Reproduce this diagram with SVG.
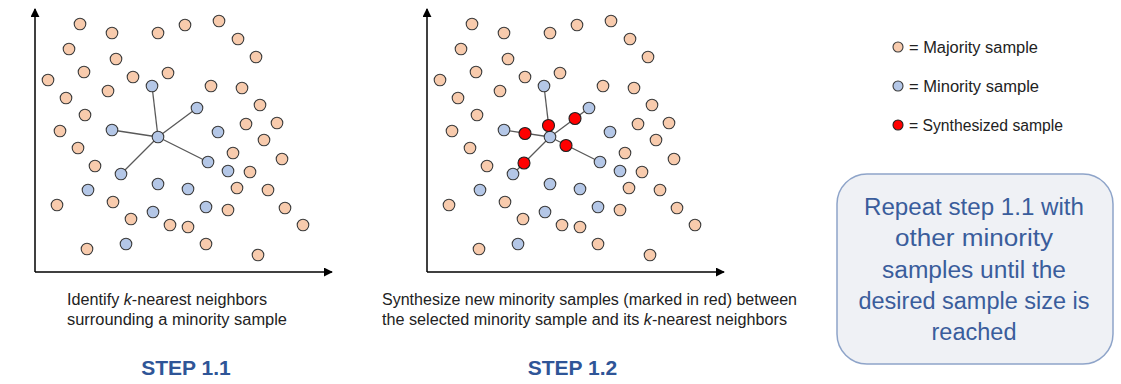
<svg xmlns="http://www.w3.org/2000/svg" xmlns:xlink="http://www.w3.org/1999/xlink" width="1121" height="384" viewBox="0 0 1121 384">
<style>
.maj{fill:#f8cbad;stroke:#3a3a3a;stroke-width:1.1}
.min{fill:#b4c7e7;stroke:#3a3a3a;stroke-width:1.1}
.syn{fill:#ff0000;stroke:#202020;stroke-width:1.1}
.axis{stroke:#000;stroke-width:1.5;fill:none}
.link{stroke:#595959;stroke-width:1.3}
.cap{font-family:"Liberation Sans",Arial,sans-serif;font-size:16px;fill:#222}
.step{font-family:"Liberation Sans",Arial,sans-serif;font-size:21px;font-weight:bold;fill:#2f5597;text-anchor:middle}
.leg{font-family:"Liberation Sans",Arial,sans-serif;font-size:16px;fill:#222}
.box{font-family:"Liberation Sans",Arial,sans-serif;font-size:23px;fill:#3a5d9c;text-anchor:middle}
</style>
<defs>
<marker id="ah" viewBox="0 0 10 10" refX="9" refY="5" markerWidth="9" markerHeight="9" markerUnits="userSpaceOnUse" orient="auto">
<path d="M0,0 L10,5 L0,10 z" fill="#000"/>
</marker>
</defs>

<!-- LEFT PLOT -->
<g id="plot-left">
<g id="axes-left">
<path class="axis" d="M35,272 L35,9" marker-end="url(#ah)"/>
<path class="axis" d="M35,272 L332,272" marker-end="url(#ah)"/>
</g>
<g id="connectors-left">
<line class="link" x1="158" y1="137" x2="152" y2="86"/>
<line class="link" x1="158" y1="137" x2="112" y2="130"/>
<line class="link" x1="158" y1="137" x2="197" y2="108"/>
<line class="link" x1="158" y1="137" x2="208" y2="162"/>
<line class="link" x1="158" y1="137" x2="121" y2="174"/>
</g>
<g id="majority-left">
<circle class="maj" cx="80" cy="24" r="5.8"/><circle class="maj" cx="112" cy="33" r="5.8"/><circle class="maj" cx="158" cy="33" r="5.8"/><circle class="maj" cx="185" cy="25" r="5.8"/>
<circle class="maj" cx="219" cy="21" r="5.8"/><circle class="maj" cx="238" cy="39" r="5.8"/><circle class="maj" cx="256" cy="57" r="5.8"/><circle class="maj" cx="69" cy="49" r="5.8"/>
<circle class="maj" cx="116" cy="59" r="5.8"/><circle class="maj" cx="84" cy="72" r="5.8"/><circle class="maj" cx="48" cy="80" r="5.8"/><circle class="maj" cx="133" cy="77" r="5.8"/>
<circle class="maj" cx="168" cy="73" r="5.8"/><circle class="maj" cx="211" cy="86" r="5.8"/><circle class="maj" cx="242" cy="88" r="5.8"/><circle class="maj" cx="66" cy="98" r="5.8"/>
<circle class="maj" cx="108" cy="91" r="5.8"/><circle class="maj" cx="260" cy="105" r="5.8"/><circle class="maj" cx="85" cy="115" r="5.8"/><circle class="maj" cx="60" cy="131" r="5.8"/>
<circle class="maj" cx="246" cy="124" r="5.8"/><circle class="maj" cx="277" cy="123" r="5.8"/><circle class="maj" cx="264" cy="140" r="5.8"/><circle class="maj" cx="78" cy="148" r="5.8"/>
<circle class="maj" cx="95" cy="166" r="5.8"/><circle class="maj" cx="233" cy="153" r="5.8"/><circle class="maj" cx="282" cy="159" r="5.8"/><circle class="maj" cx="250" cy="172" r="5.8"/>
<circle class="maj" cx="237" cy="188" r="5.8"/><circle class="maj" cx="268" cy="190" r="5.8"/><circle class="maj" cx="57" cy="205" r="5.8"/><circle class="maj" cx="113" cy="202" r="5.8"/>
<circle class="maj" cx="131" cy="219" r="5.8"/><circle class="maj" cx="170" cy="225" r="5.8"/><circle class="maj" cx="188" cy="227" r="5.8"/><circle class="maj" cx="228" cy="210" r="5.8"/>
<circle class="maj" cx="285" cy="208" r="5.8"/><circle class="maj" cx="303" cy="225" r="5.8"/><circle class="maj" cx="87" cy="249" r="5.8"/><circle class="maj" cx="206" cy="244" r="5.8"/>
<circle class="maj" cx="258" cy="255" r="5.8"/>
</g>
<g id="minority-left">
<circle class="min" cx="152" cy="86" r="5.8"/><circle class="min" cx="112" cy="130" r="5.8"/><circle class="min" cx="158" cy="137" r="5.8"/><circle class="min" cx="197" cy="108" r="5.8"/>
<circle class="min" cx="218" cy="132" r="5.8"/><circle class="min" cx="208" cy="162" r="5.8"/><circle class="min" cx="228" cy="171" r="5.8"/><circle class="min" cx="121" cy="174" r="5.8"/>
<circle class="min" cx="158" cy="184" r="5.8"/><circle class="min" cx="88" cy="190" r="5.8"/><circle class="min" cx="188" cy="189" r="5.8"/><circle class="min" cx="206" cy="207" r="5.8"/>
<circle class="min" cx="153" cy="212" r="5.8"/><circle class="min" cx="126" cy="244" r="5.8"/>
</g>
</g>

<!-- MIDDLE PLOT -->
<g id="plot-mid" transform="translate(392,0)">
<g id="axes-mid">
<path class="axis" d="M35,272 L35,9" marker-end="url(#ah)"/>
<path class="axis" d="M35,272 L332,272" marker-end="url(#ah)"/>
</g>
<g id="connectors-mid">
<line class="link" x1="158" y1="137" x2="152" y2="86"/>
<line class="link" x1="158" y1="137" x2="112" y2="130"/>
<line class="link" x1="158" y1="137" x2="197" y2="108"/>
<line class="link" x1="158" y1="137" x2="208" y2="162"/>
<line class="link" x1="158" y1="137" x2="121" y2="174"/>
</g>
<g id="majority-mid">
<circle class="maj" cx="80" cy="24" r="5.8"/><circle class="maj" cx="112" cy="33" r="5.8"/><circle class="maj" cx="158" cy="33" r="5.8"/><circle class="maj" cx="185" cy="25" r="5.8"/>
<circle class="maj" cx="219" cy="21" r="5.8"/><circle class="maj" cx="238" cy="39" r="5.8"/><circle class="maj" cx="256" cy="57" r="5.8"/><circle class="maj" cx="69" cy="49" r="5.8"/>
<circle class="maj" cx="116" cy="59" r="5.8"/><circle class="maj" cx="84" cy="72" r="5.8"/><circle class="maj" cx="48" cy="80" r="5.8"/><circle class="maj" cx="133" cy="77" r="5.8"/>
<circle class="maj" cx="168" cy="73" r="5.8"/><circle class="maj" cx="211" cy="86" r="5.8"/><circle class="maj" cx="242" cy="88" r="5.8"/><circle class="maj" cx="66" cy="98" r="5.8"/>
<circle class="maj" cx="108" cy="91" r="5.8"/><circle class="maj" cx="260" cy="105" r="5.8"/><circle class="maj" cx="85" cy="115" r="5.8"/><circle class="maj" cx="60" cy="131" r="5.8"/>
<circle class="maj" cx="246" cy="124" r="5.8"/><circle class="maj" cx="277" cy="123" r="5.8"/><circle class="maj" cx="264" cy="140" r="5.8"/><circle class="maj" cx="78" cy="148" r="5.8"/>
<circle class="maj" cx="95" cy="166" r="5.8"/><circle class="maj" cx="233" cy="153" r="5.8"/><circle class="maj" cx="282" cy="159" r="5.8"/><circle class="maj" cx="250" cy="172" r="5.8"/>
<circle class="maj" cx="237" cy="188" r="5.8"/><circle class="maj" cx="268" cy="190" r="5.8"/><circle class="maj" cx="57" cy="205" r="5.8"/><circle class="maj" cx="113" cy="202" r="5.8"/>
<circle class="maj" cx="131" cy="219" r="5.8"/><circle class="maj" cx="170" cy="225" r="5.8"/><circle class="maj" cx="188" cy="227" r="5.8"/><circle class="maj" cx="228" cy="210" r="5.8"/>
<circle class="maj" cx="285" cy="208" r="5.8"/><circle class="maj" cx="303" cy="225" r="5.8"/><circle class="maj" cx="87" cy="249" r="5.8"/><circle class="maj" cx="206" cy="244" r="5.8"/>
<circle class="maj" cx="258" cy="255" r="5.8"/>
</g>
<g id="minority-mid">
<circle class="min" cx="152" cy="86" r="5.8"/><circle class="min" cx="112" cy="130" r="5.8"/><circle class="min" cx="158" cy="137" r="5.8"/><circle class="min" cx="197" cy="108" r="5.8"/>
<circle class="min" cx="218" cy="132" r="5.8"/><circle class="min" cx="208" cy="162" r="5.8"/><circle class="min" cx="228" cy="171" r="5.8"/><circle class="min" cx="121" cy="174" r="5.8"/>
<circle class="min" cx="158" cy="184" r="5.8"/><circle class="min" cx="88" cy="190" r="5.8"/><circle class="min" cx="188" cy="189" r="5.8"/><circle class="min" cx="206" cy="207" r="5.8"/>
<circle class="min" cx="153" cy="212" r="5.8"/><circle class="min" cx="126" cy="244" r="5.8"/>
</g>
<g id="synthesized-mid">
<circle class="syn" cx="156.5" cy="125.5" r="6"/>
<circle class="syn" cx="183" cy="118.5" r="6"/>
<circle class="syn" cx="133" cy="133.5" r="6"/>
<circle class="syn" cx="132" cy="163" r="6"/>
<circle class="syn" cx="174" cy="145.5" r="6"/>
</g>
</g>

<!-- CAPTIONS -->
<g id="caption-left">
<text class="cap" x="67" y="305" textLength="200" lengthAdjust="spacingAndGlyphs">Identify <tspan font-style="italic">k</tspan>-nearest neighbors</text>
<text class="cap" x="67" y="325" textLength="220" lengthAdjust="spacingAndGlyphs">surrounding a minority sample</text>
<text class="step" x="186" y="375">STEP 1.1</text>
</g>
<g id="caption-mid">
<text class="cap" x="382" y="305" textLength="415" lengthAdjust="spacingAndGlyphs">Synthesize new minority samples (marked in red) between</text>
<text class="cap" x="382" y="325" textLength="405" lengthAdjust="spacingAndGlyphs">the selected minority sample and its <tspan font-style="italic">k</tspan>-nearest neighbors</text>
<text class="step" x="572.5" y="375">STEP 1.2</text>
</g>

<!-- LEGEND -->
<g id="legend">
<g id="legend-majority"><circle class="maj" cx="898" cy="47" r="5"/><text class="leg" x="909" y="52.5" textLength="129" lengthAdjust="spacingAndGlyphs">= Majority sample</text></g>
<g id="legend-minority"><circle class="min" cx="898" cy="86" r="5"/><text class="leg" x="909" y="91.5" textLength="130" lengthAdjust="spacingAndGlyphs">= Minority sample</text></g>
<g id="legend-synth"><circle class="syn" cx="898" cy="125" r="5"/><text class="leg" x="909" y="130.5" textLength="154" lengthAdjust="spacingAndGlyphs">= Synthesized sample</text></g>
</g>

<!-- REPEAT BOX -->
<g id="repeat-box">
<rect x="837" y="174" width="276" height="190" rx="30" ry="30" fill="#eff1f5" stroke="#8ea4c9" stroke-width="1.5"/>
<text class="box" x="974" y="215" textLength="220" lengthAdjust="spacingAndGlyphs">Repeat step 1.1 with</text>
<text class="box" x="974" y="246" textLength="158" lengthAdjust="spacingAndGlyphs">other minority</text>
<text class="box" x="974" y="278" textLength="184" lengthAdjust="spacingAndGlyphs">samples until the</text>
<text class="box" x="974" y="309" textLength="231" lengthAdjust="spacingAndGlyphs">desired sample size is</text>
<text class="box" x="974" y="340" textLength="85" lengthAdjust="spacingAndGlyphs">reached</text>
</g>
</svg>
